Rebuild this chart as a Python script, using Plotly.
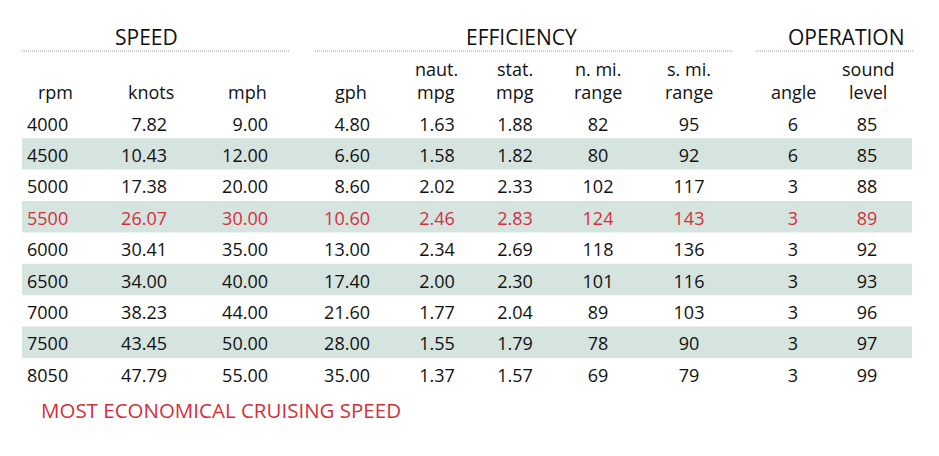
import plotly.graph_objects as go

# Table data
rpm = [4000, 4500, 5000, 5500, 6000, 6500, 7000, 7500, 8050]
knots = [7.82, 10.43, 17.38, 26.07, 30.41, 34.00, 38.23, 43.45, 47.79]
mph = [9.00, 12.00, 20.00, 30.00, 35.00, 40.00, 44.00, 50.00, 55.00]
gph = [4.80, 6.60, 8.60, 10.60, 13.00, 17.40, 21.60, 28.00, 35.00]
naut_mpg = [1.63, 1.58, 2.02, 2.46, 2.34, 2.00, 1.77, 1.55, 1.37]
stat_mpg = [1.88, 1.82, 2.33, 2.83, 2.69, 2.30, 2.04, 1.79, 1.57]
nmi_range = [82, 80, 102, 124, 118, 101, 89, 78, 69]
smi_range = [95, 92, 117, 143, 136, 116, 103, 90, 79]
angle = [6, 6, 3, 3, 3, 3, 3, 3, 3]
sound_level = [85, 85, 88, 89, 92, 93, 96, 97, 99]

groups = ['SPEED', 'EFFICIENCY', 'OPERATION']
best_rpm = 5500
footnote = 'MOST ECONOMICAL CRUISING SPEED'

W, H = 939, 456
PAGE = 8  # default body margin of the html page
FONT = 'Open Sans, Noto Sans, sans-serif'
BLACK = '#111111'
RED = '#d3303a'
BAND = '#d6e4df'

# pixel layout of the rows
row0_px = 122.5
row_px = 31.4
text_dy = 3.5 / row_px  # digits sit a little below band centre


def py(p):
    """page pixel y -> row units on the y axis"""
    return (p - row0_px) / row_px


# (values, header lines, x, align, decimals, header x)
columns = [
    (rpm, ['rpm'], 27, 'left', 0, 55),
    (knots, ['knots'], 167, 'right', 2, 151),
    (mph, ['mph'], 268, 'right', 2, 247),
    (gph, ['gph'], 370, 'right', 2, 351),
    (naut_mpg, ['naut.', 'mpg'], 437, 'center', 2, 436),
    (stat_mpg, ['stat.', 'mpg'], 515, 'center', 2, 515),
    (nmi_range, ['n. mi.', 'range'], 598, 'center', 0, 598),
    (smi_range, ['s. mi.', 'range'], 689, 'center', 0, 689),
    (angle, ['angle'], 793, 'center', 0, 793),
    (sound_level, ['sound', 'level'], 867, 'center', 0, 868),
]

rows = list(range(len(rpm)))
colors = [RED if r == best_rpm else BLACK for r in rpm]

fig = go.Figure()

pos = {'left': 'middle right', 'right': 'middle left', 'center': 'middle center'}
for vals, head, x, align, dec, hx in columns:
    fig.add_trace(go.Scatter(
        x=[x] * len(vals),
        y=[r + text_dy for r in rows],
        mode='text',
        text=[f'{v:.{dec}f}' for v in vals],
        textposition=pos[align],
        textfont=dict(family=FONT, size=18, color=colors),
        hoverinfo='skip',
        showlegend=False
    ))

shapes = []
# alternate row bands
for i in rows:
    if i % 2 == 1:
        shapes.append(dict(
            type='rect', xref='x', yref='y', layer='below',
            x0=22, x1=912, y0=i - 0.5, y1=i + 0.5,
            fillcolor=BAND, line=dict(width=0)
        ))

# group titles with dotted rules
spans = [(22, 290), (315, 732), (756, 913)]
title_x = [146, 521, 846]
annotations = []
for g, (a, b), tx in zip(groups, spans, title_x):
    shapes.append(dict(
        type='line', xref='x', yref='y', x0=a, x1=b, y0=py(51), y1=py(51),
        line=dict(color='#9a9a9a', width=1, dash='1px,1px')
    ))
    annotations.append(dict(
        x=tx, y=py(37), xref='x', yref='y', text=g, showarrow=False,
        font=dict(family=FONT, size=21, color=BLACK)
    ))

# column headers
for vals, head, x, align, dec, hx in columns:
    lines = head if len(head) == 2 else [''] + head
    for txt, p in zip(lines, [69, 92]):
        if txt:
            annotations.append(dict(
                x=hx, y=py(p), xref='x', yref='y', text=txt, showarrow=False,
                font=dict(family=FONT, size=18, color=BLACK)
            ))

annotations.append(dict(
    x=39, y=py(410), xref='x', yref='y', text=footnote, showarrow=False,
    xanchor='left', font=dict(family=FONT, size=20.5, color=RED)
))

fig.update_layout(
    width=W - PAGE, height=H - PAGE,
    margin=dict(l=0, r=0, t=0, b=0),
    paper_bgcolor='white', plot_bgcolor='white',
    xaxis=dict(range=[PAGE, W], visible=False, fixedrange=True),
    yaxis=dict(range=[py(H), py(PAGE)], visible=False, fixedrange=True),
    shapes=shapes,
    annotations=annotations,
    showlegend=False
)

fig.write_html("out.html")
